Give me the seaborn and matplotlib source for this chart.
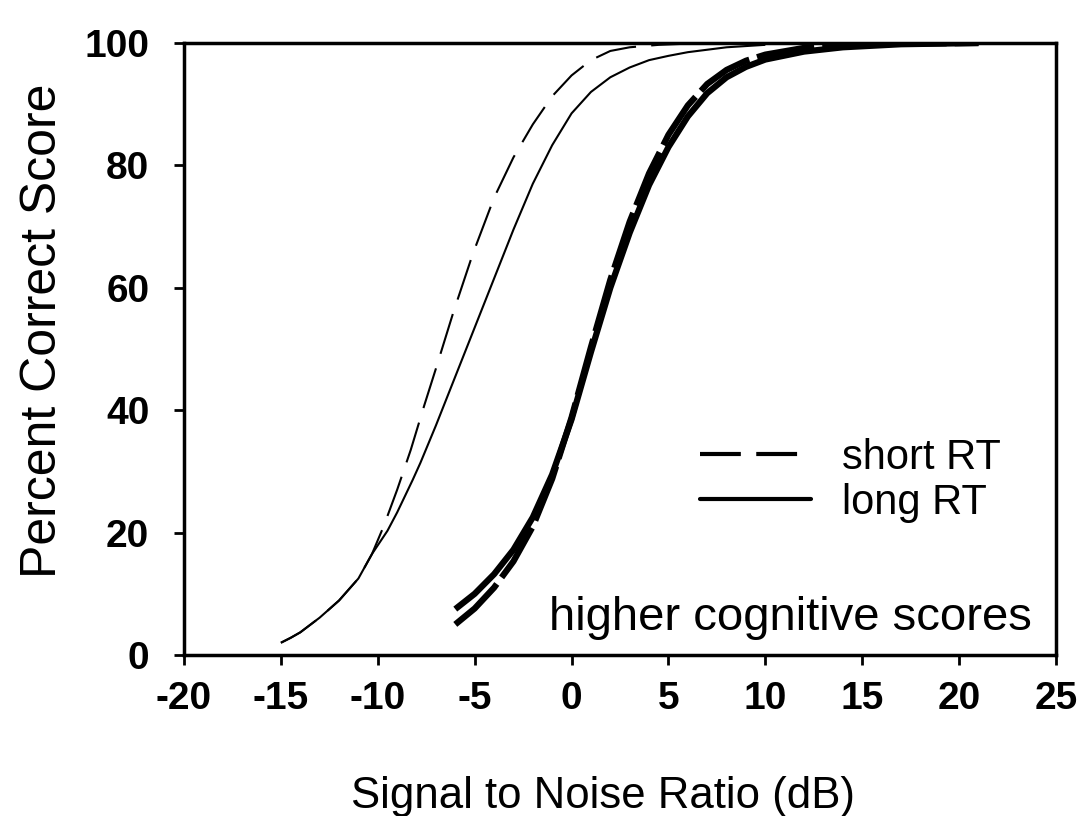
import matplotlib
matplotlib.use("Agg")
import matplotlib.pyplot as plt
import seaborn as sns
from matplotlib import font_manager
from matplotlib.lines import Line2D

# ---------------- data ----------------
short_left_x = [-15, -14.5, -14, -13.5, -13, -12, -11, -10.3, -9.7, -9.0, -8.3, -7.6, -7.0,
                -6.1, -5.1, -4.0, -3.0, -2.0, -1.0, 0.0, 1.0, 2.0, 3.0, 4.5, 6.0]
short_left_y = [2.0, 2.8, 3.7, 4.9, 6.1, 8.9, 12.5, 16.5, 21.0, 27.0, 33.5, 40.8, 46.8,
                56.0, 65.5, 74.7, 81.3, 86.7, 91.3, 94.7, 97.2, 98.7, 99.3, 99.7, 99.9]

long_left_x = [-15, -14.5, -14, -13.5, -13, -12, -11, -10.3, -9.5, -9.0, -8.2, -7.8, -7.0,
               -6.0, -5.0, -4.0, -3.0, -2.0, -1.0, 0.0, 1.0, 2.0, 3.0, 4.0, 5.0, 6.0, 7.0,
               8.0, 10.0]
long_left_y = [2.0, 2.8, 3.7, 4.9, 6.1, 8.9, 12.5, 16.5, 20.3, 23.3, 28.6, 31.4, 37.5,
               45.5, 53.5, 61.5, 69.5, 77.0, 83.3, 88.5, 92.0, 94.4, 96.0, 97.2, 97.9, 98.5,
               98.9, 99.3, 99.7]

right_x = [-6, -5, -4, -3, -2, -1, 0, 1, 2, 3, 4, 5, 6, 7, 8, 9, 10, 12, 14, 17, 21]
short_right_y = [5.0, 7.6, 11.0, 15.3, 21.0, 28.8, 38.8, 50.3, 61.3, 70.8, 78.7, 85.0, 89.8,
                 93.3, 95.6, 97.1, 98.1, 99.2, 99.6, 99.9, 100.0]
long_right_y = [7.5, 10.0, 13.2, 17.2, 22.5, 29.5, 38.5, 49.5, 60.0, 69.0, 76.8, 83.0, 88.0,
                91.8, 94.4, 96.1, 97.3, 98.6, 99.3, 99.8, 100.0]

x_ticks = [-20, -15, -10, -5, 0, 5, 10, 15, 20, 25]
y_ticks = [0, 20, 40, 60, 80, 100]
legend_labels = ["short RT", "long RT"]
x_label = "Signal to Noise Ratio (dB)"
y_label = "Percent Correct Score"
note = "higher cognitive scores"

# ---------------- style ----------------
sns.set_theme(style="ticks")
plt.rcParams["font.family"] = ["Liberation Sans", "DejaVu Sans"]
plt.rcParams["axes.unicode_minus"] = False
plt.rcParams["text.color"] = "black"
plt.rcParams["axes.labelcolor"] = "black"
plt.rcParams["xtick.color"] = "black"
plt.rcParams["ytick.color"] = "black"

names = {f.name for f in font_manager.fontManager.ttflist}
has_narrow = "Liberation Sans Narrow" in names

W, H = 1085, 816
fig = plt.figure(figsize=(W / 100, H / 100), dpi=100)
fig.patch.set_facecolor("white")
ax = fig.add_axes([184 / W, 1 - 655 / H, (1056 - 184) / W, (655 - 43) / H])
ax.set_facecolor("white")


def draw(x, y, lw, dashes=None):
    sns.lineplot(x=x, y=y, ax=ax, color="black", linewidth=lw,
                 estimator=None, sort=False, legend=False)
    line = ax.lines[-1]
    line.set_solid_capstyle("butt")
    line.set_solid_joinstyle("round")
    if dashes is not None:
        line.set_dashes(dashes)
        line.set_dash_capstyle("butt")


draw(short_left_x, short_left_y, 1.5, (20, 7.3))
draw(long_left_x, long_left_y, 1.5)
draw(right_x, long_right_y, 4.5)
draw(right_x, short_right_y, 4.5, (9.3, 1.3))

ax.set_xlim(-20, 25)
ax.set_ylim(0, 100)
ax.set_xticks(x_ticks)
ax.set_yticks(y_ticks)
ax.set_xticklabels([str(v) for v in x_ticks])
ax.set_yticklabels([str(v) for v in y_ticks])
ax.tick_params(axis="both", direction="out", length=7, width=2, colors="black",
               labelsize=28, labelcolor="black")
ax.tick_params(axis="x", pad=12)
ax.tick_params(axis="y", pad=18)
for lbl in ax.get_xticklabels() + ax.get_yticklabels():
    lbl.set_fontweight("bold")

for s in ax.spines.values():
    s.set_visible(True)
    s.set_linewidth(2.5)
    s.set_color("black")

ax.set_xlabel("")
ax.set_ylabel("")
fig.text(603 / W, 1 - 808 / H, x_label, ha="center", va="baseline", fontsize=31.5,
         color="black")
fig.text(43 / W, 1 - 331 / H, y_label, rotation=90, ha="center", va="center",
         fontsize=36, color="black")

if has_narrow:
    ax.text(0.970, 0.041, note, transform=ax.transAxes, ha="right", va="baseline",
            fontsize=41, family=["Liberation Sans Narrow", "Liberation Sans"], color="black")
else:
    ax.text(0.972, 0.041, note, transform=ax.transAxes, ha="right", va="baseline",
            fontsize=34, color="black")

handles = [Line2D([], [], color="black", lw=3, dashes=(9.8, 3.7)),
           Line2D([], [], color="black", lw=3)]
ax.legend(handles, legend_labels, loc="upper left", bbox_to_anchor=(0.592, 0.355),
          frameon=False, fontsize=30, handlelength=2.67, handletextpad=0.74,
          labelspacing=0.12, borderpad=0, borderaxespad=0, labelcolor="black")

fig.savefig("out.png", dpi=100, facecolor="white")
